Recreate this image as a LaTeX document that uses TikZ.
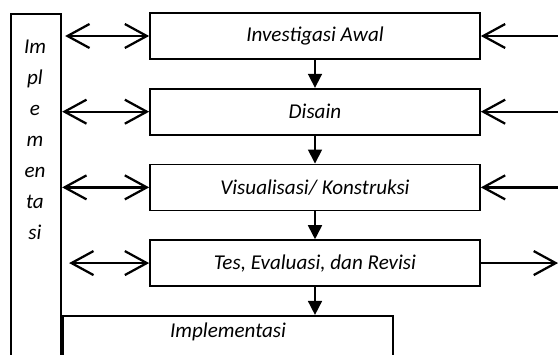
\documentclass[tikz,border=0pt]{standalone}
\usepackage{fontspec}
\setmainfont{Carlito}
\usepackage{tikz}
\usetikzlibrary{positioning,arrows.meta}
\tikzset{every picture/.style={line width=1.2pt}}
\tikzset{
  tahap/.style={draw, minimum width=8.25cm, minimum height=1.15cm, inner sep=0pt,
    font=\fontsize{15}{18}\selectfont\itshape},
  turun/.style={-{Triangle[length=0.35cm,width=0.35cm]}},
  duaarah/.style={line width=1.6pt,
    {Straight Barb[length=0.55cm,width=0.6cm]}-{Straight Barb[length=0.55cm,width=0.6cm]}},
  satuarah/.style={line width=1.6pt, -{Straight Barb[length=0.55cm,width=0.6cm]}}
}

\begin{document}
\begin{tikzpicture}
\useasboundingbox (0,0) rectangle (13.95,8.85);
\clip (0,0) rectangle (13.95,8.85);
%
\node (kolom) [draw, minimum width=1.25cm, minimum height=9cm, anchor=north west] at (0.25,8.525) {};
\node (teks) [align=center, font=\fontsize{15}{22}\selectfont\itshape] at (0.875,5.35)
  {Im\\pl\\e\\m\\en\\ta\\si};
%
\node (b1) [tahap] at (7.875,7.95) {Investigasi Awal};
\node (b2) [tahap, below=0.7cm of b1] {Disain};
\node (b3) [tahap, below=0.7cm of b2] {Visualisasi/ Konstruksi};
\node (b4) [tahap, below=0.7cm of b3] {Tes, Evaluasi, dan Revisi};
\node (impl) [tahap, minimum height=1.25cm, below=0.7cm of b4, xshift=-2.175cm] {};
\node (implteks) [font=\fontsize{15}{18}\selectfont\itshape] at (5.7,0.55) {Implementasi};
%
\foreach \Source/\Target in {b1/b2, b2/b3, b3/b4}
\draw[turun] (\Source) to (\Target);
\draw[turun] (b4.south) to (b4.south |- impl.north);
%
\coordinate (k1) at ([xshift=-2.1cm]b1.west);
\coordinate (k2) at ([xshift=-2.175cm]b2.west);
\coordinate (k3) at ([xshift=-2.175cm]b3.west);
\coordinate (k4) at ([xshift=-2.0cm]b4.west);
\foreach \Source/\Target in {k1/b1, k2/b2, k3/b3, k4/b4}
\draw[duaarah] (\Source) to (\Target.west);
%
\coordinate (r1) at ([xshift=2cm]b1.east);
\coordinate (r2) at ([xshift=2cm]b2.east);
\coordinate (r3) at ([xshift=2cm]b3.east);
\coordinate (r4) at ([xshift=1.93cm]b4.east);
\foreach \Source/\Target in {r1/b1, r2/b2, r3/b3}
\draw[satuarah] (\Source) to (\Target.east);
\draw[satuarah] (b4.east) to (r4);
\end{tikzpicture}
\end{document}
